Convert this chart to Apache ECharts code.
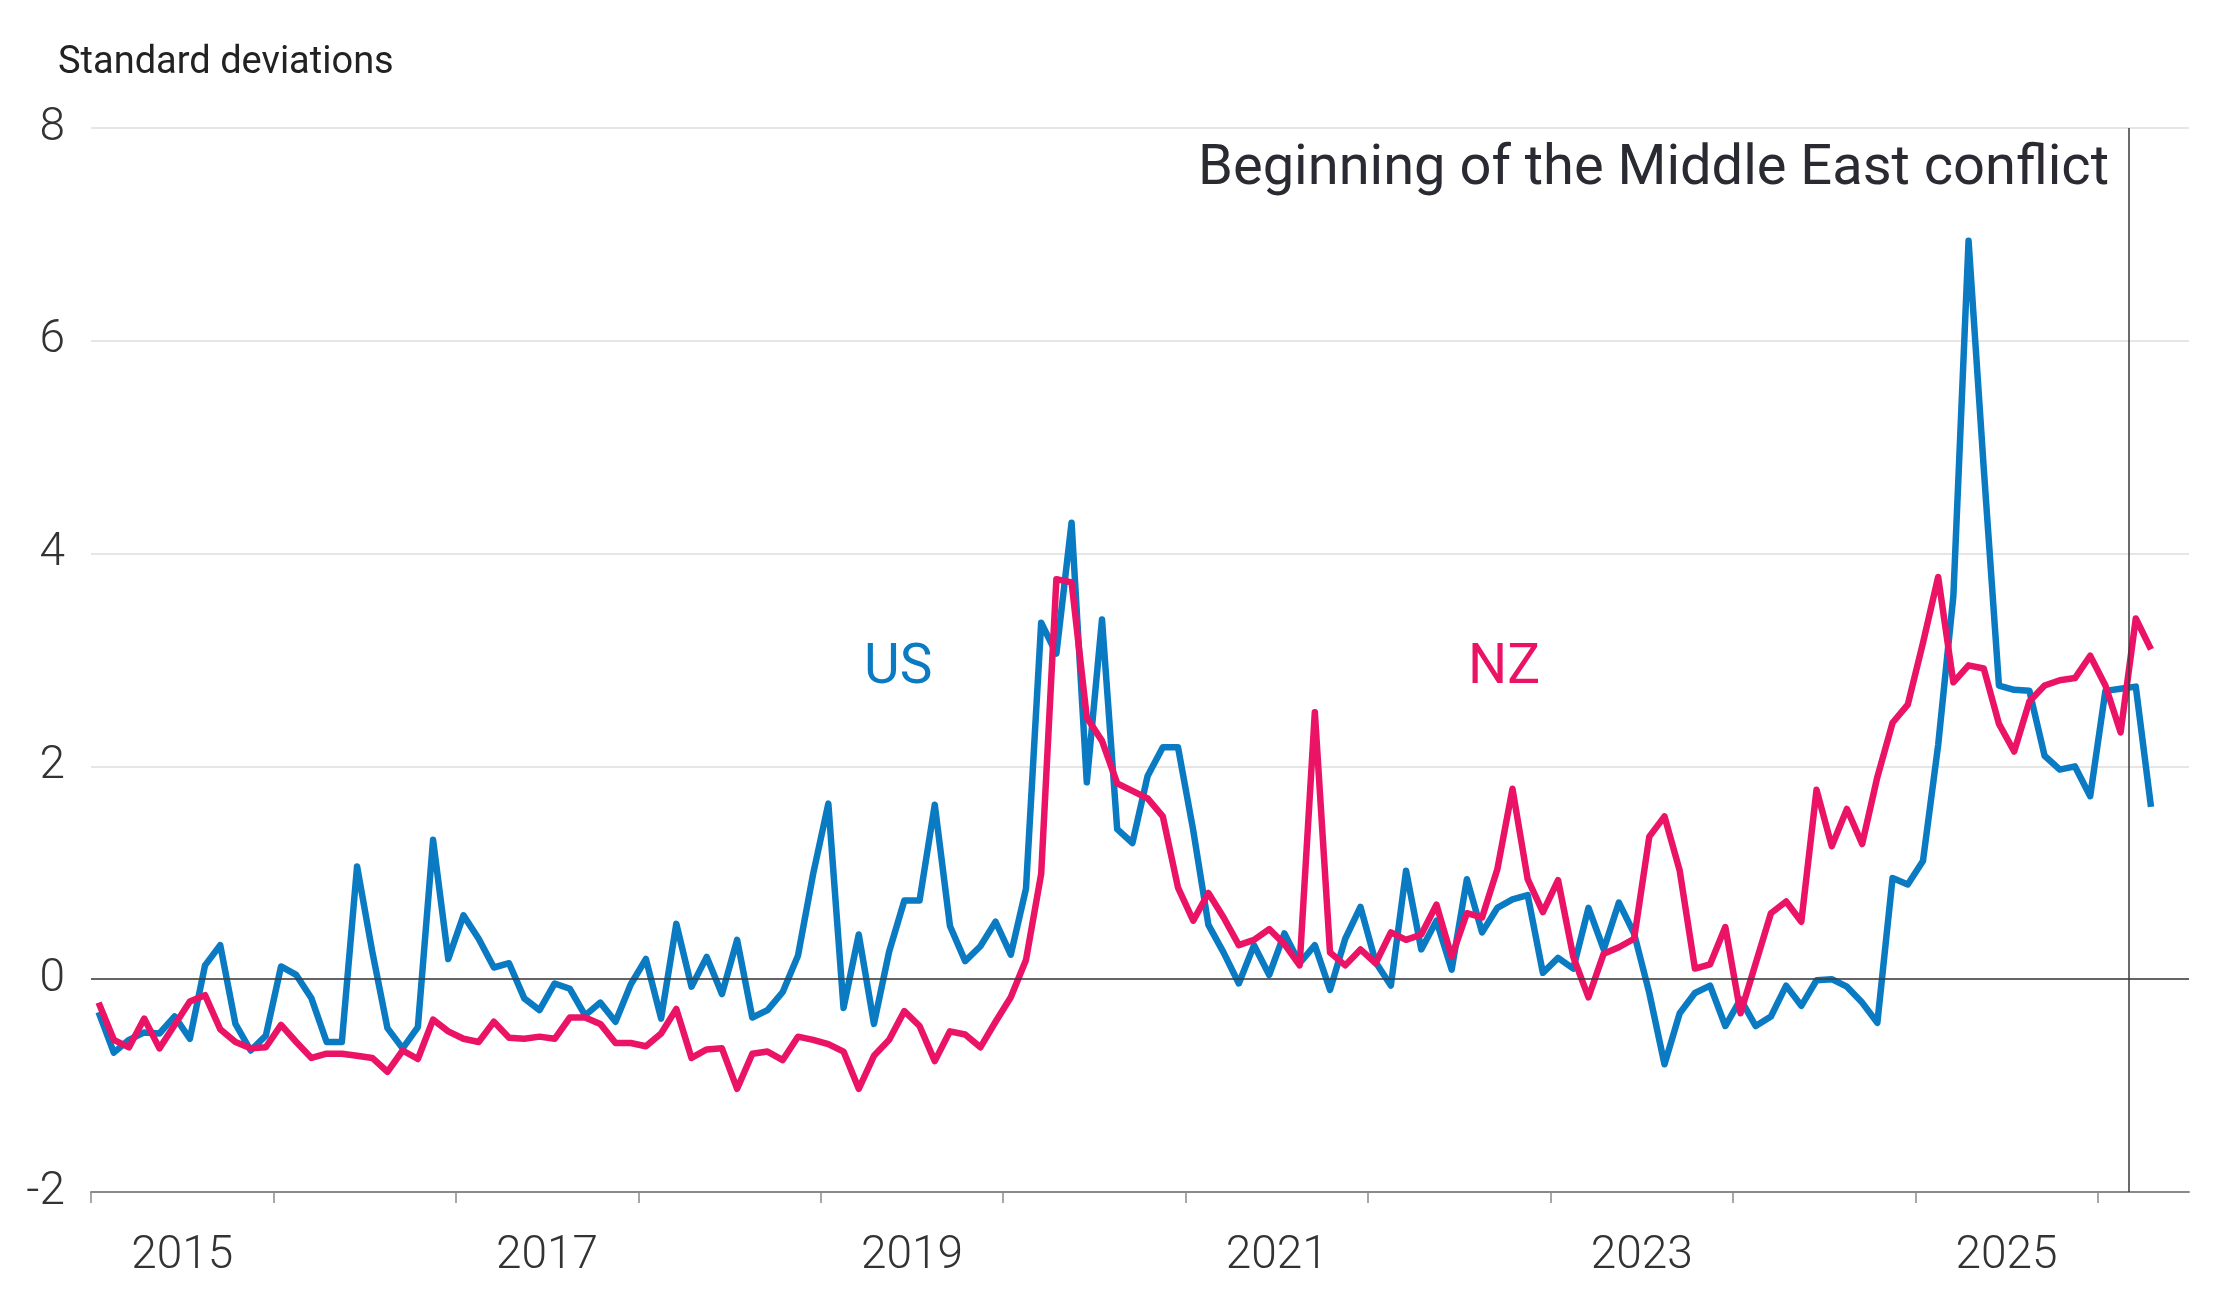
<!DOCTYPE html>
<html>
<head>
<meta charset="utf-8">
<script src="https://cdn.jsdelivr.net/npm/echarts@6/dist/echarts.min.js"></script>
<style>
  html, body { margin: 0; padding: 0; background: #fff; }
  #chart { width: 2232px; height: 1316px; }
</style>
</head>
<body>
<div id="chart"></div>
<script>
// monthly readings, Jan 2015 .. Apr 2026
const startYear = 2015
const usValues = [
  -0.31, -0.69, -0.57, -0.50, -0.51, -0.35, -0.56, 0.13, 0.32, -0.42, -0.67, -0.53,
  0.12, 0.04, -0.18, -0.59, -0.59, 1.06, 0.26, -0.46, -0.65, -0.45, 1.31, 0.19,
  0.60, 0.38, 0.11, 0.15, -0.18, -0.29, -0.04, -0.09, -0.34, -0.22, -0.40, -0.05,
  0.19, -0.37, 0.52, -0.07, 0.21, -0.14, 0.37, -0.36, -0.29, -0.12, 0.22, 0.99,
  1.65, -0.27, 0.42, -0.42, 0.26, 0.74, 0.74, 1.64, 0.50, 0.17, 0.31, 0.54,
  0.23, 0.85, 3.35, 3.06, 4.29, 1.85, 3.38, 1.41, 1.28, 1.91, 2.18, 2.18,
  1.40, 0.51, 0.25, -0.04, 0.32, 0.04, 0.43, 0.15, 0.32, -0.10, 0.38, 0.68,
  0.16, -0.06, 1.02, 0.28, 0.55, 0.09, 0.94, 0.44, 0.67, 0.75, 0.79, 0.06,
  0.20, 0.10, 0.67, 0.28, 0.72, 0.43, -0.13, -0.80, -0.32, -0.13, -0.06, -0.44,
  -0.19, -0.44, -0.35, -0.06, -0.25, -0.01, 0.00, -0.07, -0.22, -0.41, 0.95, 0.89,
  1.11, 2.20, 3.60, 6.94, 4.80, 2.76, 2.72, 2.71, 2.10, 1.97, 2.00, 1.72,
  2.71, 2.73, 2.75, 1.62
]
const nzValues = [
  -0.22, -0.57, -0.64, -0.37, -0.65, -0.43, -0.21, -0.15, -0.47, -0.59, -0.65, -0.64,
  -0.43, -0.59, -0.74, -0.70, -0.70, -0.72, -0.74, -0.87, -0.67, -0.75, -0.38, -0.49,
  -0.56, -0.59, -0.40, -0.55, -0.56, -0.54, -0.56, -0.36, -0.36, -0.42, -0.60, -0.60,
  -0.63, -0.51, -0.28, -0.74, -0.66, -0.65, -1.03, -0.70, -0.68, -0.76, -0.54, -0.57,
  -0.61, -0.68, -1.03, -0.72, -0.57, -0.30, -0.44, -0.77, -0.49, -0.52, -0.64, -0.40,
  -0.17, 0.18, 0.99, 3.76, 3.73, 2.46, 2.24, 1.84, 1.77, 1.70, 1.53, 0.86,
  0.55, 0.81, 0.58, 0.32, 0.37, 0.47, 0.33, 0.13, 2.51, 0.25, 0.13, 0.28,
  0.15, 0.44, 0.37, 0.42, 0.70, 0.21, 0.62, 0.58, 1.03, 1.79, 0.94, 0.63,
  0.93, 0.21, -0.17, 0.24, 0.30, 0.38, 1.34, 1.53, 1.02, 0.10, 0.14, 0.49,
  -0.32, 0.15, 0.62, 0.73, 0.54, 1.78, 1.25, 1.60, 1.27, 1.90, 2.41, 2.58,
  3.16, 3.78, 2.79, 2.95, 2.92, 2.40, 2.14, 2.61, 2.76, 2.81, 2.83, 3.04,
  2.76, 2.32, 3.39, 3.10
]
const tickYears = [2015, 2016, 2017, 2018, 2019, 2020, 2021, 2022, 2023, 2024, 2025, 2026]
const labelYears = [2015, 2017, 2019, 2021, 2023, 2025]
const yTicks = [-2, 0, 2, 4, 6, 8]
const conflictStart = 2026 + 2 / 12 // start of March 2026
const conflictText = 'Beginning of the Middle East conflict'

// each month sits in the middle of its month
function toSeries(values) {
  return values.map(function(v, i) {
    return [startYear + (i + 0.5) / 12, v]
  })
}

const font = 'Roboto, "Open Sans", sans-serif'
const blue = '#0a7bc2'
const pink = '#ea1366'

const myChart = echarts.init(document.getElementById('chart'))
myChart.setOption({
  animation: false,
  backgroundColor: '#fff',
  grid: {
    left: 91,
    right: 43,
    top: 128,
    bottom: 124
  },
  xAxis: {
    type: 'value',
    min: 2015,
    max: 2026.5,
    interval: 1,
    axisLine: {
      onZero: false,
      lineStyle: { color: '#8a8a8a', width: 2 }
    },
    axisTick: {
      show: true,
      length: 11,
      customValues: tickYears,
      lineStyle: { color: '#8a8a8a', width: 1.5 }
    },
    axisLabel: {
      customValues: labelYears.map(function(y) { return y + 0.5 }),
      formatter: function(v) { return String(Math.floor(v)) },
      margin: 41,
      fontSize: 46,
      fontWeight: 300,
      fontFamily: font,
      color: '#333'
    },
    splitLine: { show: false }
  },
  yAxis: {
    type: 'value',
    min: yTicks[0],
    max: yTicks[yTicks.length - 1],
    interval: 2,
    axisLine: { show: false },
    axisTick: { show: false },
    axisLabel: {
      margin: 26,
      fontSize: 46,
      fontWeight: 300,
      fontFamily: font,
      color: '#333'
    },
    splitLine: {
      lineStyle: { color: '#dedede', width: 1.5 }
    }
  },
  graphic: [
    {
      type: 'text',
      left: 58,
      top: 44,
      style: {
        text: 'Standard deviations',
        fontSize: 38,
        fontFamily: font,
        fill: '#222'
      }
    },
    {
      type: 'text',
      right: 2232 - 2109,
      top: 142,
      style: {
        text: conflictText,
        fontSize: 56,
        fontFamily: font,
        fill: '#2a2a33'
      }
    },
    {
      type: 'text',
      left: 864,
      top: 642,
      style: {
        text: 'US',
        fontSize: 55,
        fontFamily: font,
        fill: blue
      }
    },
    {
      type: 'text',
      left: 1468,
      top: 642,
      style: {
        text: 'NZ',
        fontSize: 55,
        fontFamily: font,
        fill: pink
      }
    }
  ],
  series: [
    {
      name: 'US',
      type: 'line',
      data: toSeries(usValues),
      showSymbol: false,
      lineStyle: { color: blue, width: 6.5, join: 'round' },
      z: 3,
      markLine: {
        silent: true,
        symbol: 'none',
        label: { show: false },
        data: [
          { yAxis: 0, lineStyle: { color: '#3a3a3a', width: 1.5, type: 'solid' } },
          { xAxis: conflictStart, lineStyle: { color: '#3a3a3a', width: 1.5, type: 'solid' } }
        ]
      }
    },
    {
      name: 'NZ',
      type: 'line',
      data: toSeries(nzValues),
      showSymbol: false,
      lineStyle: { color: pink, width: 6.5, join: 'round' },
      z: 4
    }
  ]
})
window.addEventListener('resize', function() {
  myChart.resize()
})
</script>
</body>
</html>
